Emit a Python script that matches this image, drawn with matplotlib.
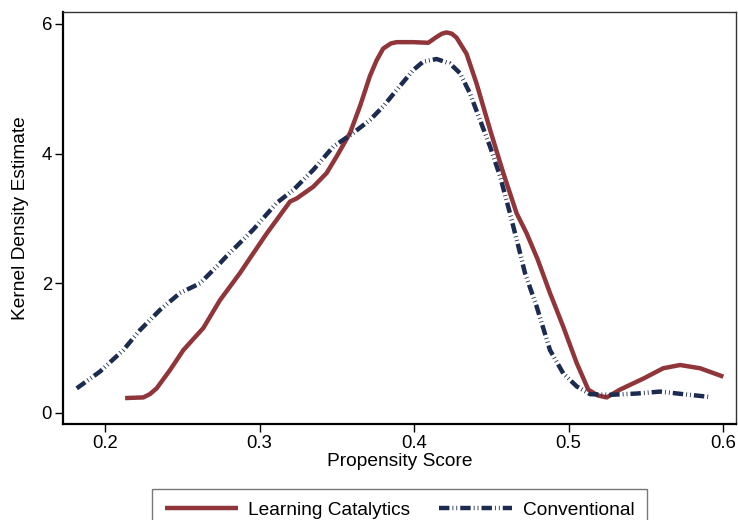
import matplotlib
matplotlib.use("Agg")
import matplotlib.pyplot as plt

plt.rcParams['font.family'] = ['Liberation Sans', 'DejaVu Sans']
plt.rcParams['lines.scale_dashes'] = False

# Learning Catalytics density
lc_x = [0.213, 0.2248, 0.2290, 0.2334, 0.242, 0.2507, 0.2636, 0.2744, 0.2874, 0.2933,
        0.3047, 0.3197, 0.3241, 0.3348, 0.3434, 0.350, 0.3586, 0.3650, 0.3715,
        0.3758, 0.3800, 0.3850, 0.3887, 0.3995, 0.4092, 0.4146, 0.4180, 0.4211, 0.4245,
        0.4275, 0.434, 0.4405, 0.4492, 0.4578, 0.4664, 0.4729, 0.4800, 0.488, 0.4966,
        0.5053, 0.5128, 0.5190, 0.5247, 0.5333, 0.5484, 0.5613, 0.5722, 0.5851, 0.6002]
lc_y = [0.23, 0.24, 0.29, 0.38, 0.66, 0.97, 1.31, 1.74, 2.16, 2.37,
        2.77, 3.26, 3.31, 3.49, 3.70, 3.96, 4.32, 4.73, 5.20,
        5.44, 5.62, 5.70, 5.72, 5.72, 5.71, 5.80, 5.85, 5.87, 5.85,
        5.79, 5.54, 5.08, 4.37, 3.70, 3.08, 2.77, 2.37, 1.85, 1.33,
        0.77, 0.36, 0.27, 0.24, 0.36, 0.53, 0.69, 0.74, 0.69, 0.56]

# Conventional density
cv_x = [0.1817, 0.1968, 0.2118, 0.2227, 0.2356, 0.2485, 0.2615, 0.2744, 0.2787,
        0.2960, 0.3111, 0.3219, 0.3348, 0.3478, 0.3607, 0.3715, 0.3801, 0.3887,
        0.3995, 0.406, 0.4146, 0.4233, 0.4298, 0.4362, 0.4427, 0.4492, 0.4557,
        0.4621, 0.4686, 0.4718, 0.4794, 0.488, 0.4966, 0.5053, 0.514, 0.527,
        0.5442, 0.5592, 0.5743, 0.5905]
cv_y = [0.38, 0.64, 0.97, 1.28, 1.59, 1.85, 2.00, 2.31, 2.42,
        2.83, 3.24, 3.44, 3.75, 4.11, 4.32, 4.52, 4.73, 4.98,
        5.29, 5.42, 5.46, 5.39, 5.24, 4.93, 4.52, 4.11, 3.65,
        3.08, 2.47, 2.16, 1.64, 0.97, 0.61, 0.41, 0.29, 0.28,
        0.30, 0.33, 0.29, 0.25]

x_ticks = [0.2, 0.3, 0.4, 0.5, 0.6]
x_ticklabels = ["0.2", "0.3", "0.4", "0.5", "0.6"]
y_ticks = [0, 2, 4, 6]
y_ticklabels = ["0", "2", "4", "6"]

red = '#903539'
navy = '#1c2c50'

fig = plt.figure(figsize=(7.38, 5.2), dpi=100)
ax = fig.add_axes([63/738, 1-424/520, (736-63)/738, (424-12)/520])

ax.plot(lc_x, lc_y, color=red, lw=3.2, solid_capstyle='butt',
        solid_joinstyle='round', label='Learning Catalytics')
cv_line, = ax.plot(cv_x, cv_y, color=navy, lw=3.2, dash_capstyle='butt',
                   dash_joinstyle='round', label='Conventional')
cv_line.set_dashes((7.5, 2.2, 0.6, 2.2, 0.6, 2.2))

ax.set_xlim(0.1728, 0.6084)
ax.set_ylim(-0.17, 6.185)
ax.set_xticks(x_ticks)
ax.set_xticklabels(x_ticklabels)
ax.set_yticks(y_ticks)
ax.set_yticklabels(y_ticklabels)
ax.tick_params(axis='both', direction='out', length=5.5, width=1.0,
               labelsize=13.3, colors='black', pad=2.5)

for s in ['left', 'bottom']:
    ax.spines[s].set_linewidth(1.6)
    ax.spines[s].set_color('black')
for s in ['top', 'right']:
    ax.spines[s].set_linewidth(1.0)
    ax.spines[s].set_color('#333333')

ax.set_xlabel('Propensity Score', fontsize=13.8, labelpad=1)
ax.set_ylabel('Kernel Density Estimate', fontsize=13.8, labelpad=9)

leg = fig.legend(loc='upper center', bbox_to_anchor=(399.5/738, 1-489/520),
                 ncol=2, fontsize=13.8, frameon=True, fancybox=False,
                 edgecolor='#555555', handlelength=3.8, columnspacing=1.5,
                 handletextpad=0.55, borderpad=0.65, borderaxespad=0)
leg.get_frame().set_linewidth(1.0)

fig.savefig('out.png', dpi=100)
